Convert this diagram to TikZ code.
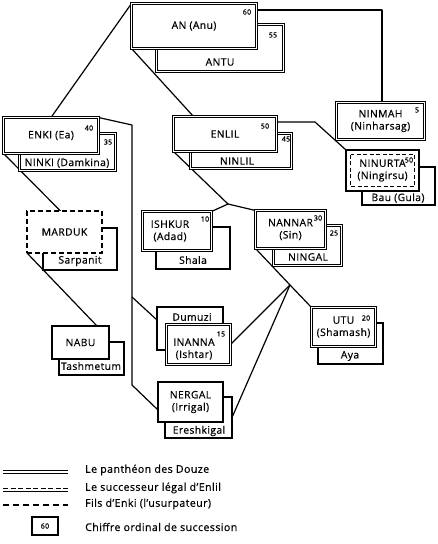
\documentclass[tikz,border=0pt]{standalone}
\usepackage{fontspec}
\setmainfont{Open Sans}[FakeBold=0.5, LetterSpace=4]
\pgfdeclarelayer{bg}
\pgfsetlayers{bg,main}
\newcommand{\bxfont}{\fontsize{10.3}{12.2}\selectfont}
\newcommand{\nmfont}{\fontsize{7}{8}\selectfont}
\newcommand{\lgfont}{\fontsize{10.6}{12}\selectfont}
\begin{document}
\begin{tikzpicture}[x=1pt,y=-1pt,
  dbox/.style={draw, double=white, double distance=1.5pt, line width=1.05pt, fill=white, inner sep=0pt, outer sep=0pt, align=center, font=\bxfont},
  sbox/.style={draw, line width=1.1pt, fill=white, inner sep=0pt, outer sep=0pt, align=center, font=\bxfont},
  mbox/.style={sbox, dashed, dash pattern=on 5pt off 3pt},
  nbox/.style={draw, line width=1.8pt, fill=white, inner sep=0pt, outer sep=0pt, align=center, font=\bxfont},
  lbl/.style={inner sep=0pt, font=\bxfont},
  num/.style={inner sep=0pt, font=\nmfont},
  conn/.style={line width=1.2pt, line join=round},
  lgtext/.style={inner sep=0pt, anchor=west, font=\lgfont}]
\useasboundingbox (0,0) rectangle (437,544);

% ---- AN / ANTU
\node[dbox, minimum width=127pt, minimum height=47pt] (antu) at (220,48) {};
\node[lbl] (antut) at (220,62) {ANTU};
\node[num] (antun) at (273,35) {55};
\node[dbox, minimum width=125pt, minimum height=45pt] (an) at (194,26) {AN (Anu)};
\node[num] (ann) at (247,12) {60};

% ---- ENKI / NINKI
\node[dbox, minimum width=96pt, minimum height=37pt] (ninki) at (67.5,152) {};
\node[lbl] (ninkit) at (67,163) {NINKI (Damkina)};
\node[num] (ninkin) at (108,142) {35};
\node[dbox, minimum width=95pt, minimum height=36pt] (enki) at (51,135.5) {ENKI (Ea)};
\node[num] (enkin) at (89,128) {40};

% ---- ENLIL / NINLIL
\node[dbox, minimum width=101pt, minimum height=35pt] (ninlil) at (241,151) {};
\node[lbl] (ninlilt) at (237,161) {NINLIL};
\node[num] (ninliln) at (286,139) {45};
\node[dbox, minimum width=103pt, minimum height=35pt] (enlil) at (225,134) {ENLIL};
\node[num] (enliln) at (265,126) {50};

% ---- NINMAH
\node[dbox, minimum width=88pt, minimum height=37pt] (ninmah) at (380.5,121) {NINMAH\\(Ninharsag)};
\node[num] (ninmahn) at (417,110) {5};

% ---- NINURTA / Bau
\node[sbox, minimum width=73pt, minimum height=38pt] (bau) at (398.5,186) {};
\node[lbl] (baut) at (398,198) {Bau (Gula)};
\node[nbox, minimum width=73pt, minimum height=41pt] (ninurta) at (382.5,170.5) {NINURTA\\(Ningirsu)};
\draw[line width=1.2pt, dash pattern=on 4pt off 2.5pt] ([shift={(4.5,4.5)}]ninurta.north west) rectangle ([shift={(-4.5,-4.5)}]ninurta.south east);
\node[num] (ninurtan) at (409,160) {50};

% ---- MARDUK / Sarpanit
\node[sbox, minimum width=74pt, minimum height=42pt] (sarpanit) at (80,249) {};
\node[lbl] (sarpanitt) at (80,261) {Sarpanit};
\node[mbox, minimum width=75pt, minimum height=42pt] (marduk) at (64.5,232) {MARDUK};

% ---- NABU / Tashmetum
\node[sbox, minimum width=65pt, minimum height=33pt] (tash) at (91.5,358.5) {};
\node[lbl] (tasht) at (91,366) {Tashmetum};
\node[sbox, minimum width=57pt, minimum height=33pt] (nabu) at (80.5,342.5) {NABU};

% ---- ISHKUR / Shala
\node[sbox, minimum width=74pt, minimum height=42pt] (shala) at (193,248) {};
\node[lbl] (shalat) at (193,260) {Shala};
\node[dbox, minimum width=69pt, minimum height=39pt] (ishkur) at (177,231) {};
\node[lbl, align=center] (ishkurt) at (170,231) {ISHKUR\\(Adad)};
\node[num] (ishkurn) at (205,219) {10};

% ---- NANNAR / NINGAL
\node[dbox, minimum width=68pt, minimum height=40pt] (ningal) at (307.5,245.5) {};
\node[lbl] (ningalt) at (308,257) {NINGAL};
\node[num] (ningaln) at (334,233) {25};
\node[dbox, minimum width=70pt, minimum height=38pt] (nannar) at (290.5,229.5) {NANNAR\\(Sin)};
\node[num] (nannarn) at (318,218) {30};

% ---- INANNA / Dumuzi
\node[sbox, minimum width=66pt, minimum height=43pt] (dumuzi) at (190,328.5) {};
\node[lbl] (dumuzit) at (192,317) {Dumuzi};
\node[dbox, minimum width=64pt, minimum height=40pt] (inanna) at (198.5,344.5) {};
\node[lbl, align=center] (inannat) at (194,349) {INANNA\\(Ishtar)};
\node[num] (inannan) at (221,334) {15};

% ---- NERGAL / Ereshkigal
\node[sbox, minimum width=67pt, minimum height=41pt] (eresh) at (198.5,417.5) {};
\node[lbl] (euresht) at (199,431) {Ereshkigal};
\node[sbox, minimum width=65pt, minimum height=40pt] (nergal) at (190.5,402) {NERGAL\\(Irrigal)};

% ---- UTU / Aya
\node[sbox, minimum width=65pt, minimum height=41pt] (aya) at (350.5,343.5) {};
\node[lbl] (ayat) at (350,356) {Aya};
\node[dbox, minimum width=64pt, minimum height=39pt] (utu) at (343.5,327) {UTU\\(Shamash)};
\node[num] (utun) at (366,318) {20};

% ---- connectors
\coordinate (k1) at (132,125);
\coordinate (k2) at (132,385);
\coordinate (k3) at (132,297);
\coordinate (e1) at (315,122);
\coordinate (j1) at (228,204);
\coordinate (j2) at (290,285);
\begin{pgfonlayer}{bg}
\draw[conn] ([yshift=-6.5pt]an.north east) -| ([xshift=1.5pt]ninmah.north);
\draw[conn] (an.north west) -- (enki.north);
\draw[conn] (an.south west) -- ([xshift=20pt]enlil.north west);
\draw[conn] (enki.north east) -- (k1) -- (k2) -- ([yshift=-8pt]nergal.west);
\draw[conn] (k3) -- ([yshift=8.5pt]dumuzi.west);
\draw[conn] (enki.south west) -- ([xshift=-4pt]marduk.north);
\draw[conn] (marduk.south west) -- ([xshift=-12pt]nabu.north east);
\draw[conn] ([yshift=-5.5pt]enlil.north east) -- (e1) -- (ninurta.north west);
\draw[conn] (enlil.south west) -- (j1) -- (ishkur.north east);
\draw[conn] (j1) -- (nannar.north west);
\draw[conn] (nannar.south west) -- (j2) -- (utu.north west);
\draw[conn] (j2) -- (inanna.east);
\draw[conn] (j2) -- (eresh.east);
\end{pgfonlayer}

% ---- legend
\coordinate (l1a) at (3,472); \coordinate (l1b) at (68,472);
\coordinate (l2a) at (3,488.5); \coordinate (l2b) at (68,488.5);
\coordinate (l2c) at (3,491.5); \coordinate (l2d) at (68,491.5);
\coordinate (l3a) at (3,505); \coordinate (l3b) at (68,505);
\draw[double=white, double distance=1.3pt, line width=1.1pt] (l1a) -- (l1b);
\draw[line width=1.5pt, dash pattern=on 5pt off 2.5pt] (l2a) -- (l2b);
\draw[line width=1pt] (l2c) -- (l2d);
\draw[line width=1.3pt, dash pattern=on 6pt off 4pt] (l3a) -- (l3b);
\node[lgtext] (lg1) at (85,470) {Le panthéon des Douze};
\node[lgtext] (lg2) at (85,488) {Le successeur légal d'Enlil};
\node[lgtext] (lg3) at (85,504) {Fils d'Enki (l'usurpateur)};
\node[draw, line width=1.1pt, minimum width=26pt, minimum height=18pt, inner sep=0pt, font=\nmfont] (lg4box) at (45,526) {60};
\node[lgtext] (lg4) at (85,527) {Chiffre ordinal de succession};
\end{tikzpicture}
\end{document}
